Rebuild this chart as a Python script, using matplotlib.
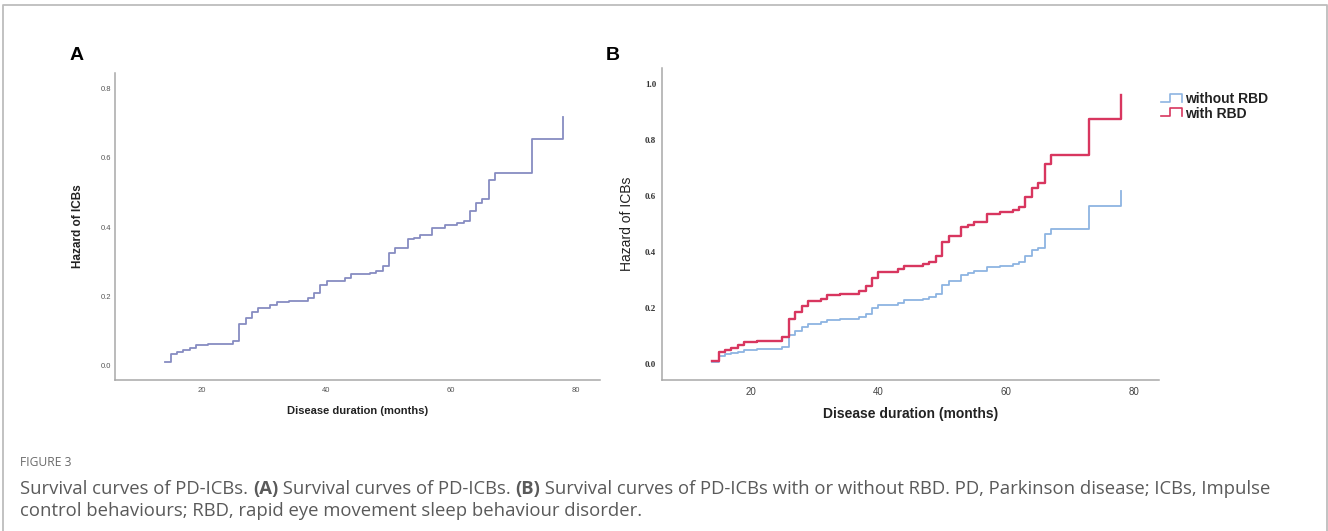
import matplotlib
matplotlib.use("Agg")
import matplotlib.pyplot as plt
from matplotlib.lines import Line2D
from matplotlib.legend_handler import HandlerBase

# ---------------- data ----------------
# Panel A: cumulative hazard of ICBs (all patients)
time_a = [14, 15, 16, 17, 18, 19, 21, 25, 26, 27, 28, 29, 31, 32, 34, 37, 38, 39, 40,
          43, 44, 47, 48, 49, 50, 51, 53, 54, 55, 57, 59, 61, 62, 63, 64, 65, 66, 67, 73, 78]
hazard_a = [0.011, 0.033, 0.040, 0.045, 0.050, 0.061, 0.064, 0.071, 0.121, 0.139, 0.156,
            0.168, 0.176, 0.184, 0.188, 0.197, 0.209, 0.232, 0.245, 0.254, 0.264, 0.268,
            0.273, 0.288, 0.326, 0.341, 0.365, 0.370, 0.378, 0.399, 0.405, 0.412, 0.417,
            0.446, 0.469, 0.481, 0.536, 0.557, 0.655, 0.718]

# Panel B: with / without RBD
time_b = [14, 15, 16, 17, 18, 19, 21, 25, 26, 27, 28, 29, 31, 32, 34, 37, 38, 39, 40,
          43, 44, 47, 48, 49, 50, 51, 53, 54, 55, 57, 59, 61, 62, 63, 64, 65, 66, 67, 73, 78]
hazard_with_rbd = [0.013, 0.043, 0.051, 0.058, 0.068, 0.081, 0.084, 0.096, 0.161, 0.187,
                   0.208, 0.225, 0.234, 0.246, 0.251, 0.263, 0.281, 0.309, 0.328, 0.340,
                   0.352, 0.358, 0.367, 0.386, 0.436, 0.459, 0.489, 0.498, 0.508, 0.535,
                   0.543, 0.551, 0.562, 0.597, 0.629, 0.646, 0.716, 0.746, 0.876, 0.963]
hazard_without_rbd = [0.007, 0.031, 0.036, 0.039, 0.044, 0.051, 0.054, 0.061, 0.103, 0.119,
                      0.134, 0.145, 0.152, 0.158, 0.163, 0.170, 0.180, 0.200, 0.212, 0.219,
                      0.228, 0.233, 0.239, 0.251, 0.282, 0.298, 0.319, 0.325, 0.332, 0.346,
                      0.351, 0.357, 0.366, 0.388, 0.408, 0.417, 0.464, 0.483, 0.566, 0.618]

series_labels = ["without RBD", "with RBD"]
x_ticks = [20, 40, 60, 80]
y_ticks_a = [0.0, 0.2, 0.4, 0.6, 0.8]
y_ticks_b = [0.0, 0.2, 0.4, 0.6, 0.8, 1.0]
x_label = "Disease duration (months)"
y_label = "Hazard of ICBs"

caption_title = "FIGURE 3"
caption_line1 = [("Survival curves of PD-ICBs. ", "normal"), ("(A)", "bold"),
                 (" Survival curves of PD-ICBs. ", "normal"), ("(B)", "bold"),
                 (" Survival curves of PD-ICBs with or without RBD. PD, Parkinson disease; "
                  "ICBs, Impulse", "normal")]
caption_line2 = [("control behaviours; RBD, rapid eye movement sleep behaviour disorder.",
                  "normal")]

# ---------------- styling ----------------
W, H = 1328, 531
SANS = ["Liberation Sans", "DejaVu Sans"]
SERIF = ["Liberation Serif", "DejaVu Serif"]
CAP = ["Open Sans", "DejaVu Sans"]
SPINE = "#a8a8a8"
COL_A = "#878cc2"
COL_BLUE = "#8db4e2"
COL_RED = "#d8365f"

fig = plt.figure(figsize=(W / 100, H / 100), dpi=100)
fig.patch.set_facecolor("white")


def fx(px):
    return px / W


def fy(py):
    return 1 - py / H


# outer frame (top, left, right; open at bottom)
fig.add_artist(Line2D([fx(3.5), fx(3.5), fx(1326.5), fx(1326.5)],
                      [0, fy(4.5), fy(4.5), 0], transform=fig.transFigure,
                      color="#bdbdbd", lw=1.3))


def style_axes(ax):
    for s in ("top", "right"):
        ax.spines[s].set_visible(False)
    for s in ("left", "bottom"):
        ax.spines[s].set_color(SPINE)
        ax.spines[s].set_linewidth(1.1)
    ax.tick_params(length=0)
    ax.set_xlim(6.1, 83.9)
    ax.set_xticks(x_ticks)


# ---------------- Panel A ----------------
axA = fig.add_axes([fx(115.4), fy(380), fx(600) - fx(115.4), fy(73) - fy(380)])
style_axes(axA)
axA.set_ylim(-0.041, 0.845)
axA.step(time_a, hazard_a, where="post", color=COL_A, lw=1.3)
axA.set_yticks(y_ticks_a)
axA.set_yticklabels([f"{v:.1f}" for v in y_ticks_a])
axA.tick_params(axis="y", pad=3)
axA.tick_params(axis="x", pad=5)
for lab in axA.get_xticklabels() + axA.get_yticklabels():
    lab.set_fontfamily(SANS)
    lab.set_fontsize(5.5)
    lab.set_color("#555555")
axA.set_xlabel(x_label, fontfamily=SANS, fontsize=8, fontweight="bold", color="#222222",
               labelpad=9)
axA.set_ylabel(y_label, fontfamily=SANS, fontsize=8.5, fontweight="bold", color="#222222",
               labelpad=12)
fig.text(fx(77), fy(56), "A", fontfamily=SANS, fontsize=14, fontweight="bold",
         ha="center", va="center", color="black")

# ---------------- Panel B ----------------
axB = fig.add_axes([fx(661.6), fy(380), fx(1159) - fx(661.6), fy(68) - fy(380)])
style_axes(axB)
axB.set_ylim(-0.056, 1.058)
lb, = axB.step(time_b, hazard_without_rbd, where="post", color=COL_BLUE, lw=1.3)
lr, = axB.step(time_b, hazard_with_rbd, where="post", color=COL_RED, lw=1.7)
axB.set_yticks(y_ticks_b)
axB.set_yticklabels([f"{v:.1f}" for v in y_ticks_b])
axB.tick_params(axis="y", pad=4)
axB.tick_params(axis="x", pad=5)
for lab in axB.get_yticklabels():
    lab.set_fontfamily(SERIF)
    lab.set_fontsize(6.5)
    lab.set_fontweight("bold")
    lab.set_color("#333333")
for lab in axB.get_xticklabels():
    lab.set_fontfamily(SANS)
    lab.set_fontsize(7)
    lab.set_color("#444444")
axB.set_xlabel(x_label, fontfamily=SANS, fontsize=10, fontweight="bold", color="#222222",
               labelpad=7)
axB.set_ylabel(y_label, fontfamily=SANS, fontsize=10, color="#222222", labelpad=8)
fig.text(fx(613), fy(56), "B", fontfamily=SANS, fontsize=14, fontweight="bold",
         ha="center", va="center", color="black")


class StepHandler(HandlerBase):
    def create_artists(self, legend, orig_handle, xdescent, ydescent, width, height,
                       fontsize, trans):
        x0, y0 = -xdescent, -ydescent
        xs = [x0, x0 + 0.45 * width, x0 + 0.45 * width, x0 + width, x0 + width]
        ys = [y0 + 0.15 * height, y0 + 0.15 * height, y0 + 0.95 * height,
              y0 + 0.95 * height, y0 + 0.15 * height]
        ln = Line2D(xs, ys, color=orig_handle.get_color(), lw=1.2, transform=trans)
        return [ln]


leg = fig.legend([lb, lr], series_labels, loc="upper left",
                 bbox_to_anchor=(fx(1161), fy(92)), frameon=False,
                 handler_map={Line2D: StepHandler()}, handlelength=1.5,
                 handletextpad=0.25, labelspacing=0.05, borderpad=0, borderaxespad=0,
                 prop={"family": SANS, "size": 10, "weight": "bold"})
for t in leg.get_texts():
    t.set_color("#222222")

# ---------------- caption ----------------
CAP_COL = "#5a5a5a"
CAP_SIZE = 13.3
fig.text(fx(20), fy(463), caption_title, fontfamily=CAP, fontsize=8.7, color="#6a6a6a",
         va="center", ha="left")

renderer = fig.canvas.get_renderer()


def rich_line(pieces, x_px, baseline_px):
    x = x_px
    for txt, wt in pieces:
        t = fig.text(fx(x), fy(baseline_px), txt, fontfamily=CAP, fontsize=CAP_SIZE,
                     color=CAP_COL, fontweight=wt, va="baseline", ha="left")
        bb = t.get_window_extent(renderer=renderer)
        x += bb.width


rich_line(caption_line1, 20, 494)
rich_line(caption_line2, 20, 516)

fig.savefig("out.png", dpi=100)
